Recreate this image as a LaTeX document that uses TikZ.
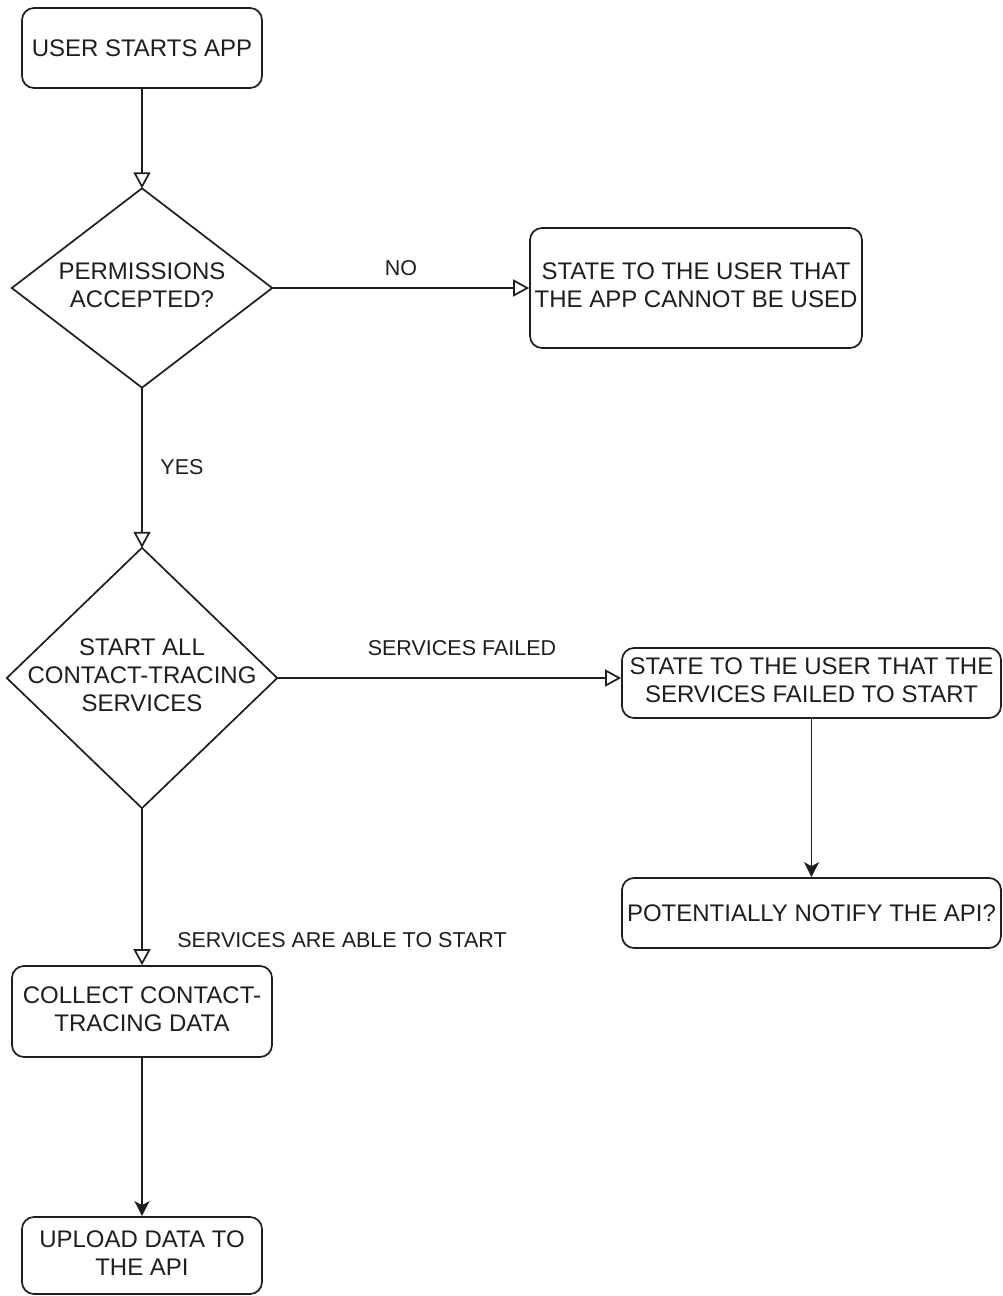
\documentclass[tikz,border=0pt]{standalone}
\usepackage{fontspec}
\setmainfont{Liberation Sans}
\usetikzlibrary{arrows.meta}
\definecolor{ink}{HTML}{1E1E1E}
\tikzset{
  box/.style={draw=ink, line width=1.7pt, rounded corners=12pt, align=center, text=ink,
    font=\fontsize{24}{28}\selectfont, inner sep=0pt},
  dia/.style={draw=none, align=center, text=ink, font=\fontsize{24}{28}\selectfont, inner sep=0pt},
  diaedge/.style={draw=ink, line width=1.7pt, line join=miter},
  lbl/.style={text=ink, font=\fontsize{21.5}{26}\selectfont, inner sep=0pt},
  openarr/.style={draw=ink, line width=1.7pt, -{Triangle[open, length=16pt, width=17pt]}},
  fillarr/.style={draw=ink, line width=1.7pt, -{Stealth[length=15pt, width=15pt, inset=4pt]}},
}
\begin{document}
\begin{tikzpicture}[x=1pt, y=-1pt]
\useasboundingbox[fill=white] (0,0) rectangle (1002,1296);

\node[box, minimum width=240pt, minimum height=80pt] (start) at (142,48) {USER STARTS APP};

\node[dia, minimum width=260pt, minimum height=199pt] (perm) at (142,288) {PERMISSIONS\\ACCEPTED?\vphantom{g}};
\draw[diaedge] (perm.north) -- (perm.east) -- (perm.south) -- (perm.west) -- cycle;

\node[box, minimum width=332pt, minimum height=120pt] (nouse) at (696,288) {STATE TO THE USER THAT\\THE APP CANNOT BE USED\vphantom{g}};

\node[dia, minimum width=270pt, minimum height=260pt] (svc) at (142,678) {START ALL\\CONTACT-TRACING\\SERVICES\vphantom{g}};
\draw[diaedge] (svc.north) -- (svc.east) -- (svc.south) -- (svc.west) -- cycle;

\node[box, minimum width=379pt, minimum height=70pt] (fail) at (811.5,683) {STATE TO THE USER THAT THE\\SERVICES FAILED TO START\vphantom{g}};

\node[box, minimum width=379pt, minimum height=70pt] (notify) at (811.5,913) {POTENTIALLY NOTIFY THE API?};

\node[box, minimum width=260pt, minimum height=91pt] (collect) at (142,1011.5) {COLLECT CONTACT-\\TRACING DATA\vphantom{g}};

\node[box, minimum width=240pt, minimum height=77pt] (upload) at (142,1255.5) {UPLOAD DATA TO\\THE API\vphantom{g}};

% connectors
\draw[openarr] (start.south) -- (perm.north);
\draw[openarr] (perm.east) -- (perm.east -| nouse.west);
\draw[openarr] (perm.south) -- (svc.north);
\draw[openarr] (svc.east) -- (svc.east -| fail.west);
\draw[openarr] (svc.south) -- (collect.north);
\draw[fillarr] (fail.south) -- (notify.north);
\draw[fillarr] (collect.south) -- (upload.north);

% labels
\node[lbl] (lno) at (401,268) {NO};
\node[lbl] (lyes) at (182,467) {YES};
\node[lbl] (lfail) at (462,648) {SERVICES FAILED};
\node[lbl] (lok) at (342,940) {SERVICES ARE ABLE TO START};
\end{tikzpicture}
\end{document}
